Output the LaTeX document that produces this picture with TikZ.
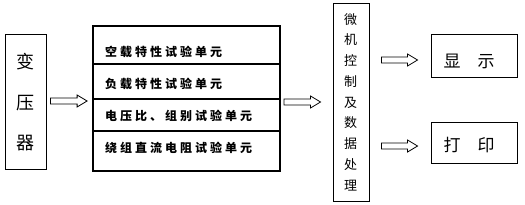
\documentclass[tikz,border=0pt]{standalone}
\usepackage{fontspec}
\newfontfamily\cjk{Noto Sans CJK SC}
\newfontfamily\cjkls[LetterSpace=25]{Noto Sans CJK SC}
\usetikzlibrary{calc}
\tikzset{
  thinbox/.style={draw, line width=0.9pt, inner sep=0pt},
  thickbox/.style={draw, line width=1.8pt, inner sep=0pt},
  rowtext/.style={anchor=west, inner sep=0pt, font=\cjkls\bfseries\fontsize{12}{12}\selectfont},
  bigtext/.style={inner sep=0pt, font=\cjk\fontsize{17}{17}\selectfont},
  hollow/.style={line width=0.8pt, line join=miter,
    to path={let \p1=(\tikztostart), \p2=(\tikztotarget) in
      (\x1,\y1+3pt) -- (\x2-10pt,\y1+3pt) -- (\x2-10pt,\y1+6pt) -- (\x2,\y1)
      -- (\x2-10pt,\y1-6pt) -- (\x2-10pt,\y1-3pt) -- (\x1,\y1-3pt) -- cycle}},
}
\begin{document}
\begin{tikzpicture}[x=1pt,y=1pt]
\useasboundingbox (0,0) rectangle (525,204);
% transformer
\node[thinbox, minimum width=41pt, minimum height=135pt] (trans) at (25.5,102.5) {};
\node[inner sep=0pt, align=center, font=\cjk\fontsize{18}{40.5}\selectfont] (transt) at (25.5,101.5) {变\\压\\器};
% middle box
\node[thickbox, minimum width=187pt, minimum height=145pt] (mid) at (186.5,105.5) {};
\coordinate (d1) at (0,140);
\coordinate (d2) at (0,105);
\coordinate (d3) at (0,73);
\draw[line width=1.8pt] (mid.west |- d1) -- (mid.east |- d1);
\draw[line width=1.8pt] (mid.west |- d2) -- (mid.east |- d2);
\draw[line width=1.8pt] (mid.west |- d3) -- (mid.east |- d3);
\node[rowtext] (r1) at (105,152) {空载特性试验单元};
\node[rowtext] (r2) at (105,120) {负载特性试验单元};
\node[rowtext] (r3) at (105,88) {电压比、组别试验单元};
\node[rowtext] (r4) at (105,56) {绕组直流电阻试验单元};
% micro box
\node[thinbox, minimum width=36pt, minimum height=198pt] (micro) at (351,102) {};
\node[inner sep=0pt, align=center, font=\cjk\fontsize{13}{20.75}\selectfont] (microt) at (350.5,102) {微\\机\\控\\制\\及\\数\\据\\处\\理};
% display & print
\node[thinbox, minimum width=86pt, minimum height=43pt] (disp) at (474,148.5) {};
\node[bigtext] (dispt) at (469,143) {显\hspace{1em}示};
\node[thinbox, minimum width=86pt, minimum height=41pt] (prn) at (474,61.5) {};
\node[bigtext] (prnt) at (469,59) {打\hspace{1em}印};
% arrows
\draw[hollow] ($(trans.east)+(4pt,0.5pt)$) to ($(mid.west)+(-5pt,0)$);
\draw[hollow] ($(mid.east |- micro.west)+(3pt,0)$) to ($(micro.west)+(-12pt,0)$);
\draw[hollow] ($(micro.east |- dispt)+(12pt,1pt)$) to ($(disp.west)+(-13pt,0)$);
\draw[hollow] ($(micro.east |- prnt)+(12pt,-1pt)$) to ($(prn.west)+(-13pt,0)$);
\end{tikzpicture}
\end{document}
